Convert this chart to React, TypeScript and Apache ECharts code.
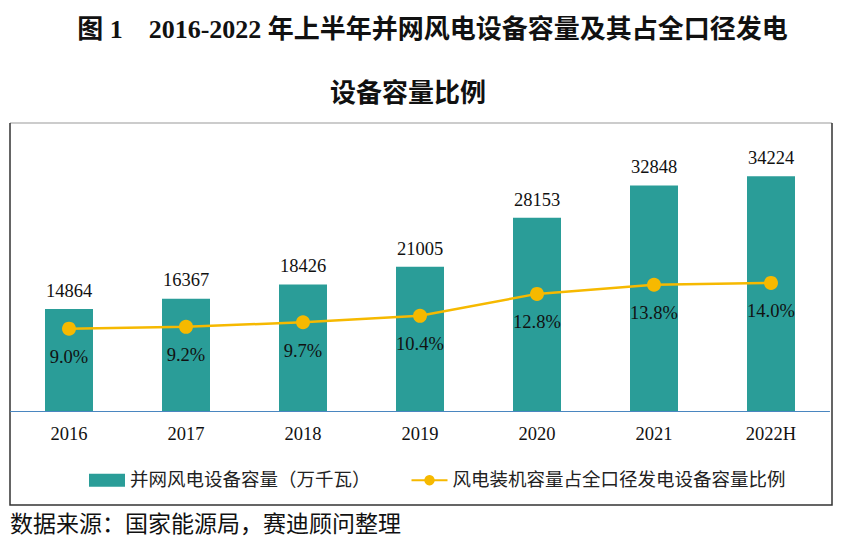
import React, { useEffect, useRef } from "react";
import * as echarts from "echarts";

const categories = ["2016", "2017", "2018", "2019", "2020", "2021", "2022H"];
const capacity = [14864, 16367, 18426, 21005, 28153, 32848, 34224];
const ratio = [9.0, 9.2, 9.7, 10.4, 12.8, 13.8, 14.0];
const barName = "并网风电设备容量（万千瓦）";
const lineName = "风电装机容量占全口径发电设备容量比例";
const titleLine1 = "图 1　2016-2022 年上半年并网风电设备容量及其占全口径发电";
const titleLine2 = "设备容量比例";
const sourceText = "数据来源：国家能源局，赛迪顾问整理";

const SERIF = "'Liberation Serif', 'Times New Roman', 'Noto Sans CJK SC', serif";
const CJK = "'Liberation Serif', 'Noto Sans CJK SC', sans-serif";

export default function App() {
  const ref = useRef<HTMLDivElement>(null);
  useEffect(() => {
    document.body.style.margin = "0";
    const chart = echarts.init(ref.current!, null, { renderer: "svg" });
    chart.setOption({
      animation: false,
      backgroundColor: "#ffffff",
      grid: { left: 10.5, right: 35.5, top: 136.5, bottom: 133 },
      xAxis: {
        type: "category",
        data: categories,
        axisLine: { show: true, lineStyle: { color: "#4a86c0", width: 1.2 } },
        axisTick: { show: false },
        axisLabel: { color: "#111", fontSize: 18.5, fontFamily: SERIF, margin: 14 },
      },
      yAxis: [
        { type: "value", min: 0, max: 40000, show: false, splitLine: { show: false } },
        { type: "value", min: 0, max: 30, show: false, splitLine: { show: false } },
      ],
      legend: {
        left: 84,
        top: 466,
        itemGap: 40,
        itemWidth: 36,
        itemHeight: 13,
        textStyle: { fontSize: 18.5, color: "#222", fontFamily: CJK },
        data: [
          { name: barName, icon: "rect" },
          { name: lineName },
        ],
      },
      series: [
        {
          name: barName,
          type: "bar",
          data: capacity,
          barWidth: 48,
          yAxisIndex: 0,
          itemStyle: { color: "#2a9d98" },
          label: {
            show: true,
            position: "top",
            distance: 9,
            color: "#111",
            fontSize: 18.5,
            fontFamily: SERIF,
          },
        },
        {
          name: lineName,
          type: "line",
          data: ratio,
          yAxisIndex: 1,
          symbol: "circle",
          symbolSize: 14,
          lineStyle: { color: "#f6b900", width: 2.5 },
          itemStyle: { color: "#f6b900" },
          label: {
            show: true,
            position: "bottom",
            distance: 12,
            color: "#111",
            fontSize: 18.5,
            fontFamily: SERIF,
            formatter: (p: any) => p.value.toFixed(1) + "%",
          },
        },
      ],
      graphic: [
        {
          type: "text",
          left: "center",
          top: 16,
          style: { text: titleLine1, fontSize: 26, fontWeight: "bold", fill: "#111", fontFamily: CJK },
        },
        {
          type: "text",
          x: 408,
          y: 93,
          style: {
            text: titleLine2,
            fontSize: 26,
            fontWeight: "bold",
            fill: "#111",
            fontFamily: CJK,
            align: "center",
            verticalAlign: "middle",
          },
        },
        {
          type: "line",
          shape: { x1: 10, y1: 123, x2: 832, y2: 123 },
          style: { stroke: "#bbbbbb", lineWidth: 1.5 },
        },
        {
          type: "polyline",
          shape: { points: [[10, 123], [10, 505], [832, 505], [832, 123]] },
          style: { stroke: "#333333", lineWidth: 1.5, fill: "none" },
        },
        {
          type: "text",
          x: 10,
          y: 524,
          style: {
            text: sourceText,
            fontSize: 23,
            fill: "#111",
            fontFamily: CJK,
            verticalAlign: "middle",
          },
        },
      ],
    });
    return () => chart.dispose();
  }, []);
  return <div ref={ref} style={{ width: 865, height: 544 }} />;
}
